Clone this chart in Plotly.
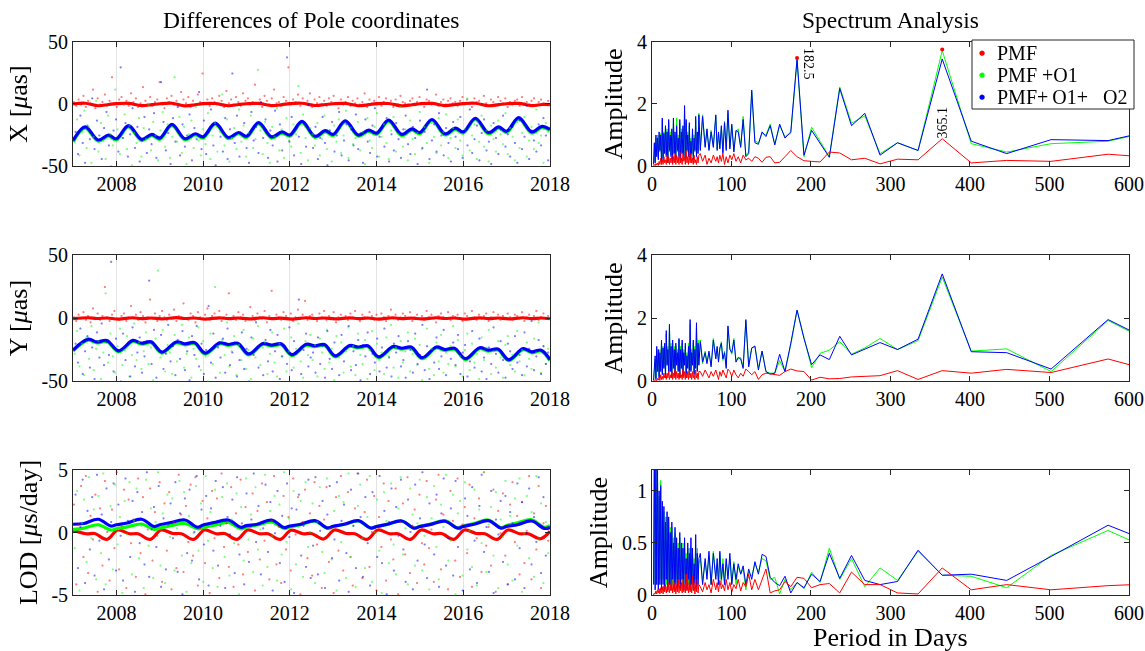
import numpy as np
import plotly.graph_objects as go

FONT = "Liberation Serif"
AX = "#262626"
RED, GREEN, BLUE = "#ff0000", "#00ff00", "#0000ff"

# ---------------- left column: smooth curves (key points) -------------
X_KEY_YEARS = [2007.0, 2007.28, 2007.58, 2007.82, 2008.0, 2008.28, 2008.58, 2008.82,
               2009.0, 2009.28, 2009.58, 2009.82, 2010.0, 2010.28, 2010.58, 2010.82,
               2011.0, 2011.28, 2011.58, 2011.82, 2012.0, 2012.28, 2012.58, 2012.82,
               2013.0, 2013.28, 2013.58, 2013.82, 2014.0, 2014.28, 2014.58, 2014.82,
               2015.0, 2015.28, 2015.58, 2015.82, 2016.0, 2016.28, 2016.58, 2016.82,
               2017.0, 2017.28, 2017.58, 2017.82, 2018.0]
X_BLUE = [-29.5, -18.5, -29.0, -25.0, -28.0, -17.5, -28.5, -24.5, -27.5, -16.5, -28.0, -24.0,
          -26.5, -15.5, -27.0, -23.0, -26.0, -15.0, -26.5, -22.5, -25.0, -14.0, -26.0, -21.5,
          -24.5, -13.5, -25.0, -21.0, -23.5, -13.0, -24.5, -20.0, -23.0, -12.5, -24.0, -19.5,
          -22.5, -11.5, -23.0, -18.5, -22.0, -11.0, -22.5, -18.0, -20.5]
X_GREEN = [-30.5, -19.5, -30.0, -26.0, -29.0, -18.5, -29.5, -25.5, -28.5, -17.5, -29.0, -25.0,
           -27.5, -16.5, -28.0, -24.0, -27.0, -16.0, -27.5, -23.5, -26.0, -15.0, -27.0, -22.5,
           -25.5, -14.5, -26.0, -22.0, -24.5, -14.0, -25.5, -21.0, -24.0, -13.5, -25.0, -20.5,
           -23.5, -12.5, -24.0, -19.5, -23.0, -12.0, -23.5, -19.0, -21.5]
X_RED = [0.0, 0.6, -1.4, -0.4, 0.3, 0.5, -1.3, -0.5, 0.2, 0.6, -1.5, -0.6, 0.3, 0.4, -1.4,
         -0.4, 0.2, 0.5, -1.3, -0.5, 0.3, 0.6, -1.2, -0.4, 0.2, 0.5, -1.4, -0.5, 0.3, 0.4,
         -1.5, -0.6, 0.2, 0.5, -1.3, -0.4, 0.3, 0.6, -1.4, -0.5, 0.2, 0.5, -1.3, -0.4, -0.5]

Y_KEY_YEARS = [2007.0, 2007.35, 2007.55, 2007.78, 2008.05, 2008.38, 2008.58, 2008.8,
               2009.05, 2009.38, 2009.58, 2009.8, 2010.05, 2010.38, 2010.58, 2010.8,
               2011.05, 2011.38, 2011.58, 2011.8, 2012.05, 2012.38, 2012.58, 2012.8,
               2013.05, 2013.38, 2013.58, 2013.8, 2014.05, 2014.38, 2014.58, 2014.8,
               2015.05, 2015.38, 2015.58, 2015.8, 2016.05, 2016.38, 2016.58, 2016.8,
               2017.05, 2017.38, 2017.58, 2017.8, 2018.0]
Y_BLUE = [-25.5, -16.8, -19.0, -17.8, -26.0, -17.8, -20.0, -18.8, -27.0, -19.0, -20.5, -19.5,
          -27.8, -19.7, -21.0, -20.0, -28.5, -20.2, -21.5, -20.5, -29.0, -20.8, -22.0, -21.0,
          -30.0, -21.8, -23.0, -22.0, -30.8, -22.6, -24.0, -23.0, -31.5, -23.0, -25.0, -24.0,
          -32.2, -23.6, -25.5, -24.6, -33.0, -24.3, -26.8, -25.5, -33.0]
Y_GREEN = [-26.3, -17.6, -19.8, -18.6, -26.8, -18.6, -20.8, -19.6, -27.8, -19.8, -21.3, -20.3,
           -28.6, -20.5, -21.8, -20.8, -29.3, -21.0, -22.3, -21.3, -29.8, -21.6, -22.8, -21.8,
           -30.8, -22.6, -23.8, -22.8, -31.6, -23.4, -24.8, -23.8, -32.3, -23.8, -25.8, -24.8,
           -33.0, -24.4, -26.3, -25.4, -33.8, -25.1, -27.6, -26.3, -33.8]
Y_RED = [-0.5, 0.2, -0.4, 0.0, -0.8, 0.2, -0.5, 0.0, -0.7, 0.3, -0.4, 0.0, -0.8, 0.1, -0.5,
         0.0, -0.7, 0.2, -0.5, -0.1, -0.8, 0.2, -0.4, 0.0, -0.7, 0.1, -0.5, 0.0, -0.8, 0.2,
         -0.5, -0.1, -0.7, 0.2, -0.4, 0.0, -0.8, 0.1, -0.5, 0.0, -0.7, 0.2, -0.5, 0.0, -0.6]

LOD_KEY_YEARS = [2007.0, 2007.25, 2007.58, 2007.87, 2008.0, 2008.25, 2008.58, 2008.87,
                 2009.0, 2009.25, 2009.58, 2009.87, 2010.0, 2010.25, 2010.58, 2010.87,
                 2011.0, 2011.25, 2011.58, 2011.87, 2012.0, 2012.25, 2012.58, 2012.87,
                 2013.0, 2013.25, 2013.58, 2013.87, 2014.0, 2014.25, 2014.58, 2014.87,
                 2015.0, 2015.25, 2015.58, 2015.87, 2016.0, 2016.25, 2016.58, 2016.87,
                 2017.0, 2017.25, 2017.58, 2017.87, 2018.0]
LOD_BLUE = [0.66, 0.72, 1.06, 0.52, 0.62, 0.76, 1.06, 0.48, 0.62, 0.80, 1.00, 0.43,
            0.60, 0.80, 1.00, 0.42, 0.55, 0.66, 1.00, 0.40, 0.52, 0.66, 0.95, 0.37,
            0.50, 0.66, 0.95, 0.36, 0.48, 0.66, 0.92, 0.35, 0.48, 0.65, 0.90, 0.35,
            0.48, 0.66, 0.95, 0.35, 0.48, 0.62, 0.92, 0.33, 0.40]
LOD_GREEN = [0.25, 0.35, 0.62, 0.20, 0.30, 0.45, 0.68, 0.25, 0.35, 0.55, 0.72, 0.30,
             0.40, 0.58, 0.80, 0.30, 0.42, 0.60, 0.85, 0.32, 0.45, 0.62, 0.90, 0.33,
             0.47, 0.64, 0.92, 0.34, 0.48, 0.65, 0.92, 0.35, 0.50, 0.68, 0.95, 0.36,
             0.52, 0.72, 1.00, 0.38, 0.55, 0.78, 1.02, 0.42, 0.55]
LOD_RED_YEARS = [2007.0, 2007.3, 2007.5, 2007.78, 2008.03, 2008.3, 2008.5, 2008.78,
                 2009.03, 2009.3, 2009.5, 2009.78, 2010.03, 2010.3, 2010.5, 2010.78,
                 2011.03, 2011.3, 2011.5, 2011.78, 2012.03, 2012.3, 2012.5, 2012.78,
                 2013.03, 2013.3, 2013.5, 2013.78, 2014.03, 2014.3, 2014.5, 2014.78,
                 2015.03, 2015.3, 2015.5, 2015.78, 2016.03, 2016.3, 2016.5, 2016.78,
                 2017.03, 2017.3, 2017.5, 2017.78, 2018.0]
LOD_RED = [0.20, -0.10, -0.08, -0.55, 0.20, -0.10, -0.10, -0.55, 0.20, -0.08, -0.10, -0.55,
           0.20, -0.10, -0.08, -0.55, 0.20, -0.10, -0.10, -0.55, 0.18, -0.10, -0.08, -0.52,
           0.20, -0.08, -0.10, -0.55, 0.20, -0.10, -0.10, -0.55, 0.20, -0.10, -0.08, -0.55,
           0.20, -0.08, -0.10, -0.55, 0.20, -0.10, -0.10, -0.50, 0.10]

# ---------------- left column: scattered daily differences (estimated samples) ------------
X_RED_PTS = [2, -1, 4, 0, 7, -2, 3, 1, 12, -3, 5, 0, 2, 8, -1, 3, 22, 1, -2, 4,
             6, 0, 3, -1, 9, 2, 5, -2, 1, 14, 3, 0, 6, -1, 2, 4, 18, 1, -3, 5,
             2, 7, 0, 3, -1, 10, 4, 1, 6, -2, 3, 0, 8, 2, 25, 1, 4, -1, 5, 2,
             0, 7, 3, -2, 11, 1, 4, 0, 6, 2, -1, 9, 3, 5, 0, 2, 16, 1, 4, -2,
             7, 3, 0, 5, 12, 1, 2, -1, 6, 3, 30, 0, 4, 2, 8, -1, 5, 1, 3, 9,
             -2, 4, 1, 6, 0, 3, -1, 5, 2, 7, 1, -3, 4, 0, 2, 6, -1, 3, 1, 5,
             0, 2, 9, -2, 4, 1, 3, 0, 6, -1, 2, 5, 1, 3, -2, 4, 0, 7, 2, 1,
             -1, 3, 5, 0, 2, 6, 1, -2, 4, 3, 0, 1, 8, -1, 2, 4, 0, 3, 5, 1,
             2, -1, 3, 6, 0, 4, 1, -2, 5, 2, 3, 0, 7, 1, -1, 4, 2, 0, 6, 3,
             1, 5, -2, 2, 0, 3, 4, -1, 6, 1, 2, 0, 3, 5, -1, 2, 4, 1, 0, 3]
X_GREEN_PTS = [-30, -12, -41, -22, -5, -35, -18, -47, -26, 3, -38, -15, -29, -44, -9, -24, -33, 12, -20, -40,
               -27, -8, -36, -17, -49, -23, -31, -11, -42, -19, -28, 0, -37, -14, -25, -45, -21, -6, -34, -16,
               -43, -26, 22, -30, -10, -39, -18, -48, -24, -13, -35, -2, -29, -41, -20, -32, -7, -44, -25, -15,
               -38, -22, 8, -33, -12, -46, -27, -19, -36, -4, -30, -17, -42, -23, -9, -35, -28, 28, -21, -40,
               -14, -31, -47, -18, -26, -3, -37, -20, -43, -11, -29, -34, -16, -24, 15, -39, -8, -27, -45, -19,
               -24, -33, -15, -41, -28, -9, -36, -21, -46, -17, -30, -12, -39, -25, -5, -43, -19, -32, -27, -14,
               -37, -22, -48, -11, -29, -35, -18, -7, -42, -26, -16, -31, -44, -21, -10, -38, -24, -2, -34, -20,
               -45, -13, -28, -40, -23, -6, -36, -18, -31, -47, -15, -26, -39, -11, -33, -22, -8, -43, -27, -19,
               -35, -12, -29, -41, -20, 5, -37, -25, -16, -44, -30, -9, -34, -21, -46, -17, -28, -38, -13, -24,
               -32, -7, -40, -19, -26, -45, -14, -35, -23, -10, -42, -29, -18, -36, -4, -31, -25, -47, -15, -22]
X_BLUE_PTS = [-22, -40, -9, -31, -47, -17, -28, 5, -36, -13, -25, -44, -19, -6, -33, -50, -21, -12, -38, 30,
              -27, -15, -42, -24, -3, -35, -18, -46, -29, -10, -39, -20, -32, -7, -43, -26, 18, -14, -37, -23,
              -48, -11, -30, -2, -41, -16, -34, -25, -8, -45, -19, -28, 10, -36, -13, -40, -22, -4, -33, -49,
              -17, -26, -38, -11, -44, -20, 25, -31, -9, -42, -24, -15, -35, -47, -6, -29, -18, -39, 2, -27,
              -12, -43, -21, -33, -5, -46, -16, -37, -23, 38, -30, -10, -41, -19, -26, -48, -14, -34, 0, -22,
              -35, -18, -44, -27, -10, -31, -49, -21, -14, -38, -25, -6, -41, -29, -16, -45, -20, -33, -8, -36,
              -23, -47, -12, -30, -39, -17, -3, -42, -26, -19, -34, -11, -46, -24, -37, -15, -28, -43, -20, -9,
              -32, -40, -18, -27, -48, -13, -35, -22, 12, -44, -29, -16, -38, -7, -25, -41, -19, -31, -46, -14,
              -26, -36, -10, -43, -21, -33, -4, -39, -28, -17, -45, -23, -12, -37, -30, -48, -15, -27, -40, -20,
              -9, -34, -24, -42, -18, -31, -47, -13, -36, -26, -1, -44, -21, -29, -38, -16, -33, -11, -25, -45]
Y_RED_PTS = [1, -2, 3, 0, 5, -1, 2, -3, 8, 0, 4, -1, 2, 25, 1, -2, 3, 6, 0, -1,
             2, 4, -2, 1, 10, 0, 3, -1, 5, 2, -3, 1, 15, 0, 4, -2, 2, 6, 1, -1,
             3, 0, 7, -2, 2, 1, 12, 0, -1, 4, 2, -3, 5, 1, 0, 3, 8, -1, 2, 4,
             0, 6, -2, 1, 3, 20, 0, 2, -1, 5, 1, 3, -2, 0, 9, 2, -1, 4, 1, 0,
             6, -3, 2, 22, 0, 3, 1, -1, 5, 2, 0, 4, -2, 1, 7, 0, 3, 14, -1, 2,
             3, 0, -2, 4, 1, 6, -1, 2, 0, 5, -3, 1, 3, 0, 2, -1, 4, 1, 6, 0,
             -2, 3, 1, 0, 5, 2, -1, 3, 0, 4, 1, -2, 2, 7, 0, 3, -1, 1, 4, 2,
             0, 5, -2, 1, 3, 0, 2, -1, 6, 1, 3, 0, -3, 2, 4, 1, 0, 5, -1, 2,
             1, 3, 0, -2, 4, 2, 0, 6, 1, -1, 3, 0, 2, 4, -2, 1, 5, 0, 3, -1,
             2, 0, 4, 1, -1, 3, 2, 0, 5, -2, 1, 3, 0, 2, 6, -1, 1, 4, 0, 2]
Y_GREEN_PTS = [-28, -10, -38, -20, -45, -15, -32, -6, -41, -24, -18, -48, -27, 20, -35, -12, -30, -43, -22, -8,
               -37, -25, -14, -46, -29, -4, -33, -19, -40, -26, -11, -36, -23, -49, -16, 38, -31, -9, -42, -21,
               -27, -44, -13, -34, -20, -5, -39, -28, -15, -47, -24, -32, -7, -41, -18, -30, -50, -12, -36, 25,
               -22, -43, -17, -29, -3, -38, -26, -14, -45, -21, -33, -9, -40, -25, -48, -16, -31, -6, -37, -23,
               -19, -44, -28, -11, -35, -46, -20, -30, -8, -42, -26, -15, -39, -24, -4, -34, -47, -18, -29, -13,
               -33, -21, -46, -16, -27, -40, -9, -35, -24, -49, -14, -31, -19, -43, -26, -7, -38, -22, -45, -12,
               -29, -36, -17, -48, -25, -10, -41, -20, -33, -27, -44, -15, -30, -5, -39, -23, -47, -18, -35, -26,
               -11, -42, -28, -16, -37, -21, -49, -32, -8, -40, -24, -45, -19, -34, -13, -43, -27, -36, -22, -6,
               -38, -17, -30, -46, -25, -12, -41, -20, -35, -28, -48, -15, -33, -23, -9, -44, -26, -39, -18, -31,
               -47, -21, -14, -37, -29, -42, -10, -34, -25, -45, -19, -32, -40, -16, -27, -3, -43, -22, -36, -24]
Y_BLUE_PTS = [-20, -35, -8, -44, -26, -14, -39, -23, -48, -11, -31, -4, -37, -19, -29, 45, -42, -16, -25, -50,
              -12, -33, -21, -46, -7, -38, -27, -15, -43, -30, -18, 30, -36, -9, -47, -24, -13, -40, -28, -5,
              -34, -22, -45, -17, -32, -10, -41, -26, -49, -14, -29, -6, -38, -20, -44, -25, 10, -35, -12, -47,
              -23, -31, -16, -43, -8, -37, -27, -19, -46, -33, -11, -40, -24, -50, -15, -29, -3, -39, -21, -45,
              -17, -34, -9, -42, -26, -13, -48, -30, -22, -36, -7, -41, -18, -28, 15, -44, -25, -12, -38, -31,
              -27, -43, -15, -36, -22, -47, -10, -32, -40, -19, -29, -45, -13, -34, -24, -6, -41, -26, -37, -17,
              -49, -21, -30, -11, -44, -28, -35, -16, -42, -23, -8, -39, -31, -46, -20, -27, -14, -38, -33, -47,
              -18, -25, -43, -12, -36, -29, -5, -41, -22, -48, -26, -35, -15, -40, -30, -9, -45, -24, -32, -19,
              -37, -13, -44, -27, -21, -46, -34, -10, -39, -25, -16, -42, -31, -48, -23, -36, -7, -28, -43, -18,
              -33, -47, -20, -26, -40, -14, -35, -29, -45, -11, -38, -24, -2, -41, -30, -17, -44, -22, -36, -27]
LOD_RED_PTS = [2.3, -4.1, 0.7, 3.8, -1.9, 4.6, -3.2, 1.4, -0.5, 3.1, -4.7, 2.0, -2.6, 4.2, 0.1, -3.8, 1.9, -1.2, 4.9, -2.9,
               0.6, 3.5, -4.4, 2.7, -0.8, 1.1, -3.5, 4.4, -1.6, 2.9, -4.9, 0.3, 3.6, -2.2, 1.7, -0.2, 4.1, -3.9, 2.4, -1.4,
               3.3, -4.5, 0.9, -2.8, 4.7, 1.5, -3.1, 2.2, -0.7, 3.9, -1.8, 4.5, -4.2, 0.4, 2.6, -2.4, 1.2, -4.8, 3.4, -0.4,
               2.8, -3.6, 4.8, -1.1, 0.8, -2.7, 3.7, -4.3, 1.6, -0.9, 4.3, -3.3, 2.1, -1.5, 0.2, 3.2, -4.6, 1.8, -2.1, 4.0,
               -0.6, 2.5, -3.7, 1.0, 4.6, -2.5, 0.5, -4.0, 3.0, -1.3, 1.3, -3.0, 4.4, -0.1, 2.9, -4.9, 0.9, 3.5, -2.0, 1.6,
               -3.4, 4.1, -0.9, 2.2, -4.4, 1.1, 3.7, -2.3, 0.4, -4.8, 2.9, -1.4, 4.6, -3.0, 0.8, 3.3, -1.9, -4.2, 2.0, 4.8,
               -0.3, -3.6, 1.7, 4.3, -2.7, 0.1, 3.0, -4.6, 1.3, -1.1, 4.0, -3.8, 2.6, -0.5, -2.1, 3.6, -4.9, 0.9, 2.4, -1.7,
               4.5, -3.2, 0.6, 1.9, -4.0, 3.1, -0.8, -2.5, 4.2, -1.2, 0.3, -3.9, 2.7, 4.7, -2.9, 1.5, -0.1, -4.5, 3.4, 1.0,
               -2.2, 4.4, -3.5, 0.7, 2.1, -1.6, 3.9, -4.3, 1.2, -0.4, 2.8, -3.1, 4.9, -1.0, 0.5, -2.6, 3.5, -4.7, 1.8, 0.0,
               3.2, -1.8, -4.1, 2.3, 4.1, -0.7, 1.4, -3.3, 2.5, -2.4, 0.2, 4.6, -3.7, 1.6, -1.3, 3.8, -4.4, 0.8, 2.2, -0.6]
LOD_GREEN_PTS = [-1.2, 3.4, -4.6, 0.8, 2.7, -2.3, 4.5, -0.4, 1.9, -3.7, 3.0, -1.6, 4.8, -4.1, 0.2, 2.2, -2.9, 3.9, -0.9, 1.3,
                 -4.8, 2.6, -0.1, 4.1, -3.3, 1.0, 3.6, -2.0, 0.6, -4.4, 4.3, -1.0, 2.0, -3.6, 0.9, 4.9, -2.6, 1.6, -4.0, 3.1,
                 -0.3, 2.8, -3.0, 0.4, 4.2, -1.8, 3.3, -4.7, 1.4, -2.4, 0.0, 3.8, -1.4, 2.4, -3.9, 4.6, -0.6, 1.7, -2.8, 3.5,
                 -4.3, 0.7, 2.9, -1.9, 4.0, -3.4, 1.1, -0.8, 3.2, -4.9, 2.1, -2.2, 4.4, -0.5, 1.5, -3.1, 3.7, -1.3, 0.3, -4.2,
                 4.7, -2.7, 1.8, -0.2, 3.0, -3.8, 2.3, -1.7, 4.9, -0.7, 1.2, -4.5, 3.4, -2.5, 0.5, 2.6, -3.5, 4.1, -1.1, 0.1,
                 2.4, -4.0, 0.9, 3.7, -1.5, -3.2, 4.4, 0.3, -2.1, 1.8, -4.6, 3.0, -0.7, 2.5, -3.6, 4.8, -1.9, 0.6, -4.3, 2.2,
                 3.9, -0.4, -2.8, 1.3, 4.6, -3.9, 0.1, 2.7, -1.4, -4.8, 3.3, 1.0, -2.4, 4.0, -0.9, -3.3, 2.0, 4.5, -1.7, 0.4,
                 -4.1, 3.6, 1.5, -2.6, 0.8, 4.3, -3.0, -0.2, 2.9, -4.5, 1.2, 3.8, -1.1, -3.7, 2.3, 0.5, 4.7, -2.2, -0.6, 3.1,
                 -4.9, 1.6, 2.6, -3.4, 4.1, -1.3, 0.2, -2.7, 3.5, -4.2, 1.9, -0.8, 4.9, -3.1, 0.7, 2.1, -1.8, 3.3, -4.4, 1.1,
                 -0.3, 4.2, -2.5, 1.4, -3.8, 2.8, -1.0, 4.4, -4.7, 0.0, 3.0, -2.0, 1.7, -3.5, 4.6, -0.5, 2.4, -4.0, 0.9, -1.6]
LOD_BLUE_PTS = [3.1, -2.8, 0.5, 4.3, -4.0, 1.8, -1.3, 2.9, -3.4, 4.7, -0.6, 1.5, -4.5, 3.6, -2.1, 0.9, 4.0, -3.0, 2.3, -0.2,
                -3.8, 4.4, 1.0, -1.9, 2.6, -4.7, 3.3, -0.8, 1.7, -2.5, 4.9, -3.5, 0.3, 2.1, -1.1, 3.8, -4.3, 1.2, -2.9, 0.7,
                2.4, -0.4, 4.1, -3.1, 1.6, -4.9, 2.8, -1.6, 3.5, -2.2, 0.1, 4.6, -3.7, 1.9, -0.9, 3.0, -4.2, 2.0, -1.4, 4.2,
                -2.6, 0.6, 3.7, -4.4, 1.3, -0.1, 2.7, -3.2, 4.5, -1.7, 0.8, -4.1, 3.2, -2.3, 1.1, 4.8, -0.7, 2.2, -3.3, 0.4,
                3.9, -1.5, 2.5, -4.6, 0.0, 3.4, -2.4, 1.4, -3.9, 4.0, -0.3, 2.0, -4.8, 1.9, 3.1, -1.8, 0.6, -2.7, 4.3, -3.6,
                -1.0, 4.5, -3.3, 0.2, 2.6, -4.4, 1.5, 3.8, -2.0, -0.5, 4.1, -3.8, 1.0, 2.3, -1.6, -4.7, 3.5, 0.6, -2.8, 4.8,
                1.3, -3.5, 2.9, -0.8, -4.2, 3.3, 0.4, -1.9, 4.6, -2.4, 1.8, -4.9, 0.9, 3.6, -3.0, 2.1, -0.2, 4.3, -1.3, -3.9,
                2.7, 0.1, -4.5, 3.9, -2.2, 1.2, 4.9, -0.9, -3.6, 2.4, 0.7, -1.7, 3.1, -4.3, 1.6, 4.4, -2.6, -0.4, 2.0, -3.4,
                4.2, -1.1, 0.3, -4.6, 2.8, 1.4, -2.9, 3.7, -0.6, -4.0, 2.2, 4.7, -1.5, 0.5, -3.1, 3.4, -4.8, 1.1, -0.1, 2.6,
                -2.3, 3.0, -4.1, 1.7, 0.8, -3.7, 4.0, -1.2, 2.5, -4.4, 0.0, 3.6, -2.5, 1.3, -0.7, 4.5, -3.2, 2.9, -1.8, 0.4]

# ---------------- right column: spectra -------------------------------------------------
PERIODS = [669.3, 573.7, 502.0, 446.2, 401.6, 365.1, 334.7, 308.9, 286.9, 267.7,
           251.0, 236.2, 223.1, 211.4, 200.8, 191.2, 182.5, 174.6, 167.3, 160.6,
           154.5, 148.7, 143.4, 138.5, 133.9, 129.5, 125.5, 121.7, 118.1, 114.7,
           111.6, 108.5, 105.7, 103.0, 100.4, 98.0, 95.6, 93.4, 91.3, 89.2,
           87.3, 85.4, 83.7, 82.0, 80.3, 77.2, 74.4, 71.7, 69.2, 66.9,
           63.7, 60.8,
           59, 58, 57, 56, 55, 54, 53, 52, 51, 50, 49, 48, 47, 46, 45, 44, 43, 42, 41, 40,
           39, 38, 37, 36, 35, 34, 33, 32, 31, 30, 29, 28, 27, 26, 25, 24, 23, 22, 21, 20,
           19, 18, 17, 16, 15, 14, 13, 12, 11, 10, 9, 8, 7, 6, 5, 4, 3, 2]

SX_BLUE = [1.37, 0.82, 0.85, 0.40, 0.80, 3.45, 0.50, 0.75, 0.35, 1.70,
           1.30, 2.50, 0.28, 0.75, 1.15, 0.35, 3.45, 1.10, 0.90, 1.35,
           0.68, 1.30, 0.95, 1.10, 0.70, 0.75, 2.45, 0.40, 0.30, 1.50,
           0.60, 1.10, 1.15, 0.45, 1.35, 0.55, 1.80, 0.50, 1.40, 0.40,
           1.30, 0.55, 1.10, 0.50, 1.65, 0.60, 1.10, 0.50, 1.20, 0.60,
           1.60, 0.50,
           1.65, 0.40, 1.10, 0.30, 1.60, 0.50, 0.90, 0.20, 1.20, 0.40,
           0.80, 0.20, 1.40, 0.30, 1.00, 0.50, 1.50, 0.20, 1.95, 0.30,
           1.30, 0.40, 1.10, 0.10, 1.50, 0.30, 0.90, 0.50, 1.30, 0.20,
           1.10, 0.40, 1.55, 0.10, 1.20, 0.30, 1.00, 0.50, 1.50, 0.10,
           1.10, 0.30, 1.30, 0.40, 1.05, 0.20, 1.55, 0.10, 1.00, 0.50,
           1.10, 0.20, 0.90, 0.30, 1.00, 0.10, 0.75, 0.05]
SX_GREEN = [1.35, 0.80, 0.72, 0.45, 0.72, 3.72, 0.50, 0.75, 0.40, 1.62,
            1.38, 2.55, 0.30, 0.80, 1.25, 0.30, 3.40, 1.05, 0.95, 1.30,
            0.70, 1.35, 1.00, 1.05, 0.75, 0.80, 2.40, 0.45, 0.35, 1.60,
            0.65, 1.20, 1.10, 0.50, 1.30, 0.60, 1.70, 0.55, 1.45, 0.45,
            1.25, 0.60, 1.05, 0.55, 1.60, 0.65, 1.15, 0.55, 1.15, 0.65,
            1.65, 0.55,
            1.70, 0.50, 1.00, 0.35, 1.50, 0.45, 1.00, 0.25, 1.10, 0.35,
            0.90, 0.25, 1.30, 0.35, 1.10, 0.45, 1.40, 0.25, 1.80, 0.35,
            1.20, 0.45, 1.20, 0.15, 1.40, 0.35, 1.00, 0.45, 1.55, 0.25,
            1.00, 0.45, 1.50, 0.15, 1.10, 0.35, 1.10, 0.45, 1.40, 0.15,
            1.20, 0.35, 1.20, 0.45, 1.10, 0.25, 1.50, 0.15, 1.05, 0.45,
            1.00, 0.25, 1.00, 0.35, 0.90, 0.15, 0.70, 0.10]
SX_RED = [0.20, 0.38, 0.15, 0.18, 0.10, 0.88, 0.20, 0.22, 0.07, 0.25,
          0.20, 0.42, 0.45, 0.13, 0.15, 0.17, 0.30, 0.50, 0.30, 0.12,
          0.10, 0.30, 0.28, 0.12, 0.25, 0.30, 0.15, 0.25, 0.20, 0.35,
          0.10, 0.30, 0.15, 0.40, 0.20, 0.35, 0.10, 0.30, 0.05, 0.40,
          0.15, 0.35, 0.10, 0.30, 0.15, 0.35, 0.10, 0.25, 0.05, 0.35,
          0.15, 0.40,
          0.35, 0.10, 0.30, 0.05, 0.20, 0.10, 0.35, 0.05, 0.25, 0.10,
          0.40, 0.10, 0.45, 0.05, 0.30, 0.10, 0.50, 0.05, 0.30, 0.15,
          0.40, 0.05, 0.25, 0.10, 0.45, 0.05, 0.30, 0.10, 0.35, 0.05,
          0.40, 0.10, 0.30, 0.05, 0.35, 0.10, 0.25, 0.05, 0.30, 0.10,
          0.35, 0.05, 0.20, 0.10, 0.30, 0.05, 0.20, 0.05, 0.25, 0.05,
          0.15, 0.02, 0.10, 0.03, 0.08, 0.01, 0.05, 0.01]

SY_BLUE = [0.75, 1.95, 0.38, 0.90, 0.93, 3.40, 1.33, 1.00, 1.22, 1.00,
           0.83, 1.42, 0.68, 0.83, 0.52, 1.35, 2.25, 1.20, 0.30, 0.85,
           0.25, 0.22, 0.30, 0.95, 0.35, 1.10, 1.05, 0.45, 1.95, 0.40,
           0.70, 0.75, 0.60, 1.30, 0.90, 1.00, 1.75, 0.40, 0.90, 0.70,
           1.20, 1.05, 0.60, 1.10, 0.70, 1.30, 0.45, 0.95, 0.55, 0.90,
           0.60, 1.25,
           0.50, 1.20, 0.30, 1.85, 0.40, 1.00, 0.20, 1.30, 0.50, 0.90,
           0.30, 1.95, 0.20, 1.10, 0.40, 0.80, 0.10, 1.20, 0.50, 0.90,
           0.20, 1.30, 0.40, 1.00, 0.10, 1.35, 0.30, 0.90, 0.50, 1.20,
           0.20, 1.00, 0.40, 1.30, 0.10, 1.10, 0.30, 1.80, 0.20, 1.00,
           0.50, 1.60, 0.10, 1.20, 0.40, 1.05, 0.20, 1.30, 0.30, 0.90,
           0.10, 1.00, 0.30, 1.10, 0.05, 0.80, 0.10, 0.02]
SY_GREEN = [0.70, 1.92, 0.30, 1.02, 0.95, 3.30, 1.28, 1.00, 1.35, 1.05,
            0.85, 1.25, 0.98, 0.88, 0.42, 1.35, 2.25, 1.15, 0.30, 0.65,
            0.25, 0.25, 0.30, 0.95, 0.40, 1.12, 1.05, 0.50, 1.90, 0.45,
            0.75, 0.70, 0.65, 1.35, 0.85, 1.05, 1.70, 0.45, 0.95, 0.65,
            1.25, 1.00, 0.65, 1.05, 0.75, 1.35, 0.50, 0.90, 0.60, 0.95,
            0.55, 1.30,
            0.55, 1.30, 0.35, 1.75, 0.45, 1.10, 0.25, 1.20, 0.55, 1.00,
            0.35, 1.80, 0.25, 1.20, 0.45, 0.90, 0.15, 1.10, 0.55, 1.00,
            0.25, 1.20, 0.45, 1.10, 0.15, 1.30, 0.35, 1.00, 0.55, 1.10,
            0.25, 1.10, 0.45, 1.20, 0.15, 1.20, 0.35, 1.75, 0.25, 1.10,
            0.55, 1.50, 0.15, 1.10, 0.45, 1.10, 0.25, 1.20, 0.35, 1.00,
            0.15, 0.90, 0.35, 1.00, 0.10, 0.70, 0.15, 0.03]
SY_RED = [0.05, 0.70, 0.27, 0.37, 0.25, 0.33, 0.05, 0.33, 0.17, 0.15,
          0.13, 0.08, 0.07, 0.12, 0.03, 0.30, 0.32, 0.38, 0.30, 0.18,
          0.20, 0.22, 0.25, 0.20, 0.05, 0.30, 0.20, 0.30, 0.38, 0.15,
          0.25, 0.10, 0.20, 0.35, 0.15, 0.30, 0.38, 0.10, 0.25, 0.35,
          0.15, 0.30, 0.05, 0.25, 0.35, 0.15, 0.30, 0.10, 0.25, 0.35,
          0.15, 0.30,
          0.30, 0.05, 0.25, 0.10, 0.35, 0.05, 0.20, 0.10, 0.30, 0.05,
          0.25, 0.10, 0.35, 0.05, 0.30, 0.10, 0.25, 0.05, 0.30, 0.10,
          0.35, 0.05, 0.20, 0.10, 0.30, 0.05, 0.25, 0.10, 0.30, 0.05,
          0.35, 0.10, 0.25, 0.05, 0.30, 0.10, 0.20, 0.05, 0.30, 0.10,
          0.25, 0.05, 0.20, 0.10, 0.25, 0.05, 0.15, 0.05, 0.20, 0.02,
          0.10, 0.03, 0.08, 0.01, 0.05, 0.01, 0.03, 0.01]

SL_BLUE = [0.38, 0.67, 0.37, 0.14, 0.20, 0.19, 0.43, 0.13, 0.10, 0.14,
           0.38, 0.16, 0.40, 0.13, 0.20, 0.07, 0.12, 0.02, 0.18, 0.09,
           0.12, 0.17, 0.37, 0.39, 0.20, 0.32, 0.15, 0.25, 0.10, 0.28,
           0.20, 0.30, 0.15, 0.30, 0.10, 0.40, 0.15, 0.35, 0.10, 0.30,
           0.15, 0.42, 0.10, 0.35, 0.15, 0.40, 0.10, 0.42, 0.15, 0.35,
           0.10, 0.40,
           0.35, 0.10, 0.40, 0.05, 0.58, 0.10, 0.30, 0.05, 0.45, 0.10,
           0.55, 0.05, 0.40, 0.15, 0.50, 0.05, 0.35, 0.10, 0.55, 0.05,
           0.45, 0.15, 0.50, 0.05, 0.60, 0.10, 0.45, 0.05, 0.55, 0.10,
           0.65, 0.05, 0.50, 0.15, 0.70, 0.05, 0.60, 0.10, 0.75, 0.05,
           0.80, 0.15, 0.70, 0.05, 0.85, 0.10, 0.90, 0.05, 1.05, 0.10,
           1.00, 0.05, 1.20, 0.10, 1.50, 0.05, 1.40, 0.10]
SL_GREEN = [0.29, 0.62, 0.38, 0.07, 0.18, 0.19, 0.42, 0.14, 0.26, 0.08,
            0.35, 0.15, 0.45, 0.12, 0.22, 0.06, 0.12, 0.05, 0.15, 0.01,
            0.17, 0.15, 0.33, 0.35, 0.22, 0.30, 0.18, 0.22, 0.05, 0.25,
            0.20, 0.28, 0.10, 0.32, 0.12, 0.35, 0.18, 0.33, 0.12, 0.35,
            0.10, 0.40, 0.12, 0.30, 0.18, 0.42, 0.10, 0.38, 0.18, 0.32,
            0.12, 0.35,
            0.30, 0.15, 0.45, 0.05, 0.40, 0.15, 0.35, 0.05, 0.40, 0.15,
            0.45, 0.10, 0.45, 0.10, 0.45, 0.10, 0.40, 0.15, 0.50, 0.10,
            0.50, 0.10, 0.45, 0.10, 0.55, 0.15, 0.50, 0.10, 0.50, 0.15,
            0.60, 0.10, 0.55, 0.10, 0.65, 0.10, 0.65, 0.15, 0.70, 0.10,
            0.75, 0.10, 0.75, 0.10, 0.80, 0.15, 0.85, 0.10, 1.10, 0.15,
            0.95, 0.10, 1.10, 0.15, 1.30, 0.10, 1.20, 0.15]
SL_RED = [0.12, 0.09, 0.05, 0.10, 0.05, 0.26, 0.01, 0.02, 0.10, 0.10,
          0.22, 0.02, 0.11, 0.10, 0.07, 0.16, 0.17, 0.08, 0.13, 0.05,
          0.04, 0.02, 0.25, 0.15, 0.05, 0.15, 0.05, 0.20, 0.08, 0.12,
          0.04, 0.15, 0.06, 0.10, 0.03, 0.12, 0.05, 0.15, 0.04, 0.10,
          0.06, 0.14, 0.03, 0.12, 0.05, 0.15, 0.02, 0.10, 0.05, 0.12,
          0.03, 0.08,
          0.10, 0.02, 0.15, 0.03, 0.10, 0.01, 0.12, 0.04, 0.18, 0.02,
          0.10, 0.03, 0.15, 0.02, 0.12, 0.04, 0.20, 0.02, 0.10, 0.03,
          0.15, 0.02, 0.12, 0.04, 0.10, 0.02, 0.15, 0.03, 0.10, 0.01,
          0.12, 0.03, 0.10, 0.02, 0.14, 0.04, 0.10, 0.02, 0.12, 0.03,
          0.08, 0.02, 0.10, 0.03, 0.09, 0.01, 0.08, 0.02, 0.07, 0.01,
          0.06, 0.02, 0.05, 0.01, 0.04, 0.01, 0.02, 0.00]

PEAK_P = [182.5, 365.1]
PEAK_A = [3.48, 3.76]

LEGEND_NAMES = ["PMF", "PMF +O1", "PMF+\u2009O1+\u00a0\u00a0\u00a0O2"]
LEGEND_COLORS = [RED, GREEN, BLUE]

# ---------------- build figure ----------------------------------------------------------
fig = go.Figure()


def epochs(n, start, stop):
    return np.linspace(start, stop, n)


def add_points(vals, color, xa, ya, start):
    fig.add_trace(go.Scattergl(x=epochs(len(vals), start, 2017.97), y=vals, mode="markers",
                               marker=dict(color=color, size=2.5, opacity=0.5),
                               xaxis=xa, yaxis=ya, showlegend=False, hoverinfo="skip"))


def add_curve(xs, ys, color, xa, ya):
    fig.add_trace(go.Scatter(x=xs, y=ys, mode="lines",
                             line=dict(color=color, width=3.2, shape="spline", smoothing=1.0),
                             xaxis=xa, yaxis=ya, showlegend=False, hoverinfo="skip"))


def add_spec(vals, color, xa, ya):
    fig.add_trace(go.Scatter(x=PERIODS, y=vals, mode="lines", line=dict(color=color, width=1),
                             xaxis=xa, yaxis=ya, showlegend=False, hoverinfo="skip"))


# Row 1 left
add_points(X_RED_PTS, RED, "x", "y", 2007.02)
add_points(X_GREEN_PTS, GREEN, "x", "y", 2007.04)
add_points(X_BLUE_PTS, BLUE, "x", "y", 2007.06)
add_curve(X_KEY_YEARS, X_RED, RED, "x", "y")
add_curve(X_KEY_YEARS, X_GREEN, GREEN, "x", "y")
add_curve(X_KEY_YEARS, X_BLUE, BLUE, "x", "y")
# Row 2 left
add_points(Y_RED_PTS, RED, "x3", "y3", 2007.02)
add_points(Y_GREEN_PTS, GREEN, "x3", "y3", 2007.04)
add_points(Y_BLUE_PTS, BLUE, "x3", "y3", 2007.06)
add_curve(Y_KEY_YEARS, Y_RED, RED, "x3", "y3")
add_curve(Y_KEY_YEARS, Y_GREEN, GREEN, "x3", "y3")
add_curve(Y_KEY_YEARS, Y_BLUE, BLUE, "x3", "y3")
# Row 3 left
add_points(LOD_RED_PTS, RED, "x5", "y5", 2007.02)
add_points(LOD_GREEN_PTS, GREEN, "x5", "y5", 2007.04)
add_points(LOD_BLUE_PTS, BLUE, "x5", "y5", 2007.06)
add_curve(LOD_RED_YEARS, LOD_RED, RED, "x5", "y5")
add_curve(LOD_KEY_YEARS, LOD_GREEN, GREEN, "x5", "y5")
add_curve(LOD_KEY_YEARS, LOD_BLUE, BLUE, "x5", "y5")

# Right spectra
for g, b, r, xa, ya in [(SX_GREEN, SX_BLUE, SX_RED, "x2", "y2"),
                        (SY_GREEN, SY_BLUE, SY_RED, "x4", "y4"),
                        (SL_GREEN, SL_BLUE, SL_RED, "x6", "y6")]:
    add_spec(g, GREEN, xa, ya)
    add_spec(b, BLUE, xa, ya)
    add_spec(r, RED, xa, ya)

fig.add_trace(go.Scatter(x=PEAK_P, y=PEAK_A, mode="markers", marker=dict(color=RED, size=4),
                         xaxis="x2", yaxis="y2", showlegend=False, hoverinfo="skip"))

LX = [0.0638, 0.4803]
RX = [0.5694, 0.9860]
ROWS = [[0.745, 0.9355], [0.4147, 0.6083], [0.086, 0.278]]
W, H = 1145, 651

tickfont = dict(family=FONT, size=20, color="black")
titlefont = dict(family=FONT, size=26, color="black")


def axis(**kw):
    d = dict(showline=True, linecolor=AX, linewidth=1, mirror="ticks", ticks="inside", ticklen=5,
             tickcolor=AX, tickfont=tickfont, zeroline=False, showgrid=False, automargin=False)
    d.update(kw)
    return d


YEARS = [2008, 2010, 2012, 2014, 2016, 2018]
PER_TICKS = [0, 100, 200, 300, 400, 500, 600]

layout = dict(width=W, height=H, margin=dict(l=0, r=0, t=0, b=0, autoexpand=False),
              paper_bgcolor="white", plot_bgcolor="white", showlegend=False,
              font=dict(family=FONT, color="black"))

for i, (yd, ylabel, yr, yt, ytt) in enumerate([
        (ROWS[0], "X [<i>μ</i>as]", [-50, 50], [-50, 0, 50], ["-50", "0", "50"]),
        (ROWS[1], "Y [<i>μ</i>as]", [-50, 50], [-50, 0, 50], ["-50", "0", "50"]),
        (ROWS[2], "LOD [<i>μ</i>s/day]", [-5, 5], [-5, 0, 5], ["-5", "0", "5"])]):
    n = 2 * i + 1
    xs = "" if n == 1 else str(n)
    layout["xaxis" + xs] = axis(domain=LX, anchor="y" + xs, range=[2007, 2018], tickvals=YEARS,
                                ticktext=[str(v) for v in YEARS], showgrid=True,
                                gridcolor="#e3e3e3", gridwidth=1)
    layout["yaxis" + xs] = axis(domain=yd, anchor="x" + xs, range=yr, tickvals=yt, ticktext=ytt,
                                title=dict(text=ylabel, font=titlefont, standoff=6))

for i, (yd, yr, yt, ytt) in enumerate([
        (ROWS[0], [0, 4], [0, 2, 4], ["0", "2", "4"]),
        (ROWS[1], [0, 4], [0, 2, 4], ["0", "2", "4"]),
        (ROWS[2], [0, 1.2], [0, 0.5, 1], ["0", "0.5", "1"])]):
    n = str(2 * i + 2)
    layout["xaxis" + n] = axis(domain=RX, anchor="y" + n, range=[0, 600], tickvals=PER_TICKS,
                               ticktext=[str(v) for v in PER_TICKS])
    layout["yaxis" + n] = axis(domain=yd, anchor="x" + n, range=yr, tickvals=yt, ticktext=ytt,
                               title=dict(text="Amplitude", font=titlefont, standoff=6))

# legend box (top-right of the first spectrum panel)
LEG_BOX = dict(x0=972 / W, x1=1134 / W, y0=1 - 109 / H, y1=1 - 40 / H)
layout["shapes"] = [dict(type="rect", xref="paper", yref="paper", **LEG_BOX,
                         line=dict(color=AX, width=1), fillcolor="white", layer="above")]

annotations = [
    dict(text="Differences of Pole coordinates", x=sum(LX) / 2, y=0.969, xref="paper", yref="paper",
         xanchor="center", yanchor="middle", showarrow=False, font=dict(family=FONT, size=23.5, color="black")),
    dict(text="Spectrum Analysis", x=sum(RX) / 2, y=0.969, xref="paper", yref="paper",
         xanchor="center", yanchor="middle", showarrow=False, font=dict(family=FONT, size=23.5, color="black")),
    dict(text="Period in Days", x=sum(RX) / 2, y=0.02, xref="paper", yref="paper",
         xanchor="center", yanchor="middle", showarrow=False, font=dict(family=FONT, size=26, color="black")),
    dict(text="182.5", x=197, y=3.3, xref="x2", yref="y2", showarrow=False, textangle=90,
         xanchor="center", yanchor="middle", font=dict(family=FONT, size=14, color="black")),
    dict(text="365.1", x=366, y=1.4, xref="x2", yref="y2", showarrow=False, textangle=-90,
         xanchor="center", yanchor="middle", font=dict(family=FONT, size=14, color="black")),
]
for k, (name, col) in enumerate(zip(LEGEND_NAMES, LEGEND_COLORS)):
    ypix = 53 + 22 * k
    annotations.append(dict(text="●", x=982 / W, y=1 - ypix / H, xref="paper", yref="paper",
                            xanchor="center", yanchor="middle", showarrow=False,
                            font=dict(family="DejaVu Sans", size=7, color=col)))
    annotations.append(dict(text=name, x=995 / W, y=1 - ypix / H, xref="paper", yref="paper",
                            xanchor="left", yanchor="middle", showarrow=False,
                            font=dict(family=FONT, size=20, color="black")))
layout["annotations"] = annotations

fig.update_layout(**layout)
fig.write_html("out.html")
